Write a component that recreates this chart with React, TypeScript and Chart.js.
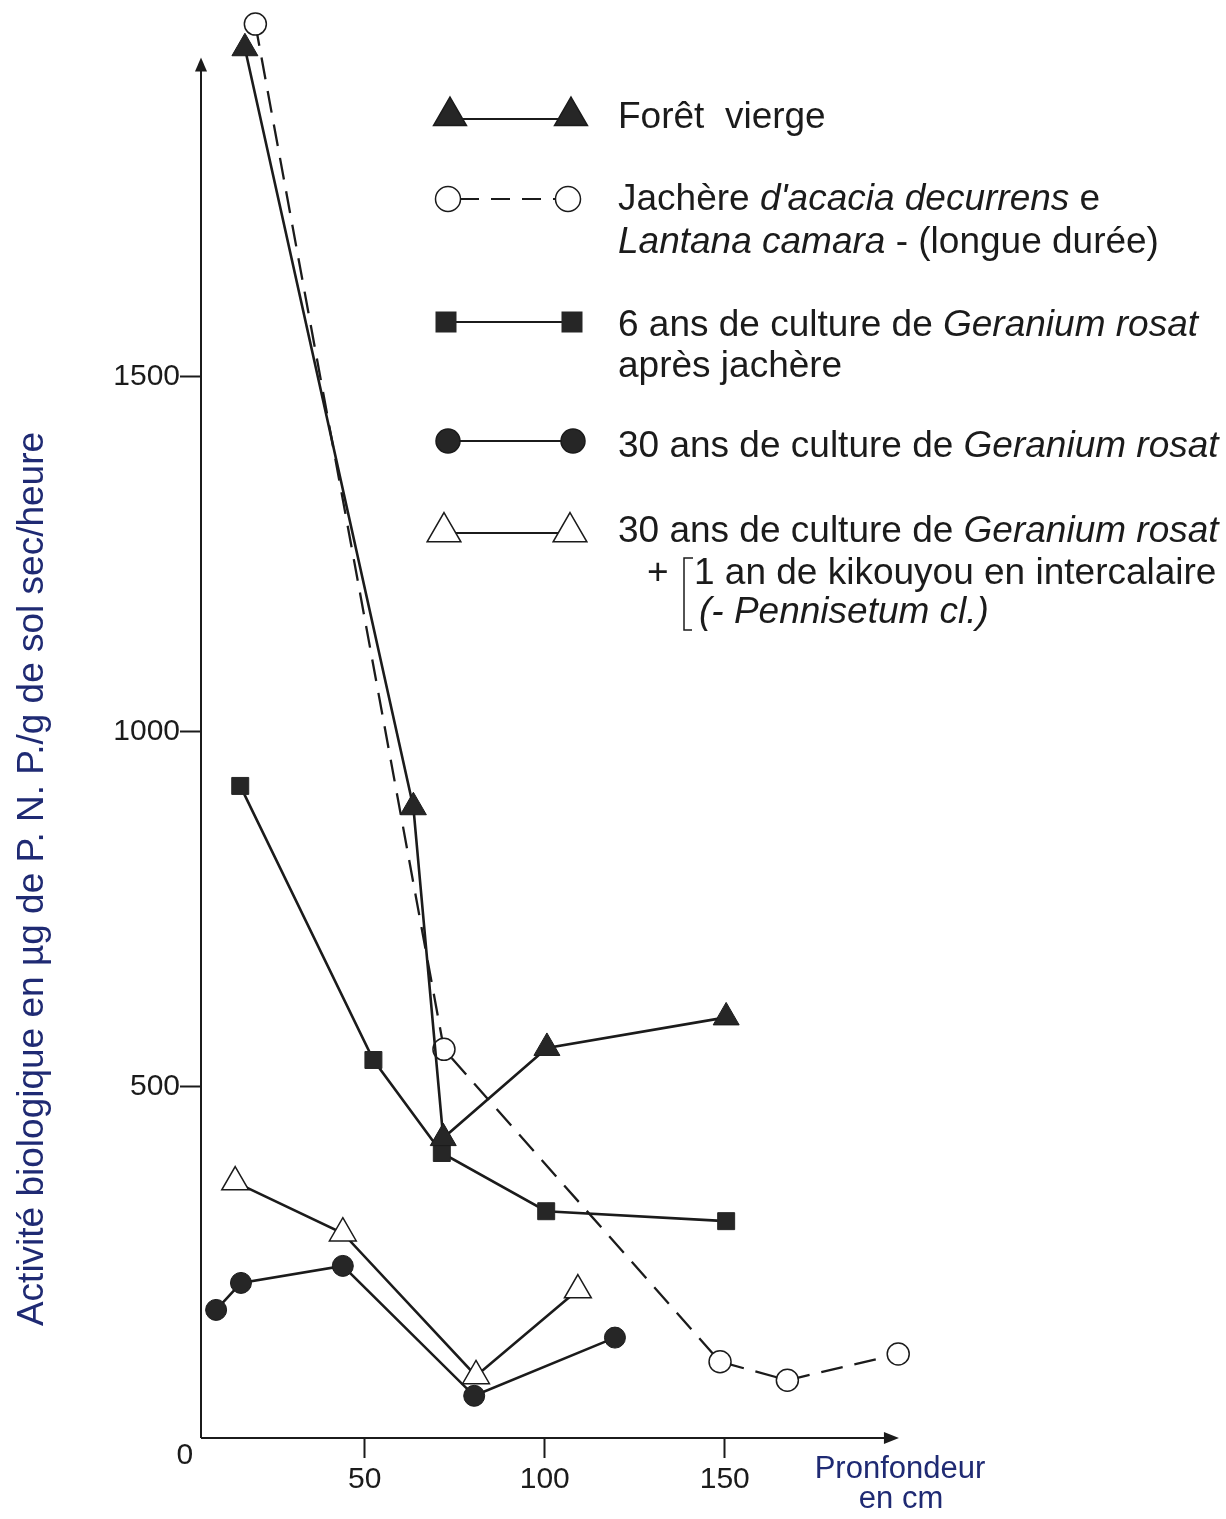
import React, { useEffect, useRef } from "react";
import { Chart, registerables } from "chart.js";

Chart.register(...registerables);

// ---- Data ----
const foretX = [16.7, 63.5, 71.8, 100.6, 150.4];
const foretY = [1963, 894, 428, 555, 598];
const jachereX = [19.6, 72.0, 148.7, 167.4, 198.2];
const jachereY = [1997, 553, 113, 87, 124];
const sixAnsX = [15.4, 52.4, 71.4, 100.4, 150.4];
const sixAnsY = [924, 538, 407, 325, 311];
const trenteAnsX = [8.7, 15.6, 43.9, 80.4, 119.5];
const trenteAnsY = [186, 224, 248, 65, 147];
const kikouyouX = [14.0, 43.9, 80.9, 109.2];
const kikouyouY = [366, 294, 93, 214];

const xTicks = [50, 100, 150];
const yTicks = [500, 1000, 1500];

const X_MIN = 4.5;
const X_MAX = 205;
const Y_MIN = 5.6;
const Y_MAX = 2005.6;
const X_AXIS_END = 198.4;
const Y_AXIS_END = 1950;

const INK = "#1b1b1b";
const FILL = "#262626";
const NAVY = "#1f2a73";
const FONT = "'Liberation Sans', Arial, Helvetica, sans-serif";

const pts = (xs: number[], ys: number[]) => xs.map((x, i) => ({ x, y: ys[i] }));

function tri(ctx: CanvasRenderingContext2D, cx: number, cy: number, r: number, filled: boolean) {
  ctx.beginPath();
  for (let k = 0; k < 3; k++) {
    const a = (k * 2 * Math.PI) / 3;
    const px = cx + Math.sin(a) * r;
    const py = cy - Math.cos(a) * r;
    if (k === 0) ctx.moveTo(px, py);
    else ctx.lineTo(px, py);
  }
  ctx.closePath();
  ctx.fillStyle = filled ? FILL : "#ffffff";
  ctx.fill();
  ctx.lineWidth = 1.5;
  ctx.strokeStyle = INK;
  ctx.stroke();
}

function circ(ctx: CanvasRenderingContext2D, cx: number, cy: number, r: number, filled: boolean) {
  ctx.beginPath();
  ctx.arc(cx, cy, r, 0, Math.PI * 2);
  ctx.fillStyle = filled ? FILL : "#ffffff";
  ctx.fill();
  ctx.lineWidth = 1.5;
  ctx.strokeStyle = INK;
  ctx.stroke();
}

function sq(ctx: CanvasRenderingContext2D, cx: number, cy: number, s: number) {
  ctx.fillStyle = FILL;
  ctx.fillRect(cx - s / 2, cy - s / 2, s, s);
}

function seg(ctx: CanvasRenderingContext2D, x1: number, y1: number, x2: number, y2: number, dash: number[] = []) {
  ctx.save();
  ctx.setLineDash(dash);
  ctx.lineWidth = 2;
  ctx.strokeStyle = INK;
  ctx.beginPath();
  ctx.moveTo(x1, y1);
  ctx.lineTo(x2, y2);
  ctx.stroke();
  ctx.restore();
}

function runs(ctx: CanvasRenderingContext2D, x: number, y: number, parts: [string, boolean][], size: number) {
  let cx = x;
  ctx.fillStyle = INK;
  ctx.textAlign = "left";
  ctx.textBaseline = "middle";
  for (const [t, it] of parts) {
    ctx.font = `${it ? "italic " : ""}${size}px ${FONT}`;
    ctx.fillText(t, cx, y);
    cx += ctx.measureText(t).width;
  }
}

const axesPlugin = {
  id: "axesDecor",
  beforeDatasetsDraw(chart: any) {
    const ctx: CanvasRenderingContext2D = chart.ctx;
    const xs = chart.scales.x;
    const ys = chart.scales.y;
    const x0 = xs.getPixelForValue(X_MIN);
    const y0 = ys.getPixelForValue(Y_MIN);
    const yTop = ys.getPixelForValue(Y_AXIS_END);
    const xEnd = xs.getPixelForValue(X_AXIS_END);
    ctx.save();
    ctx.strokeStyle = INK;
    ctx.fillStyle = INK;
    ctx.lineWidth = 2;
    ctx.beginPath();
    ctx.moveTo(x0, y0);
    ctx.lineTo(x0, yTop + 8);
    ctx.moveTo(x0, y0);
    ctx.lineTo(xEnd - 8, y0);
    ctx.stroke();
    // arrows
    ctx.beginPath();
    ctx.moveTo(x0, yTop);
    ctx.lineTo(x0 - 6, yTop + 14);
    ctx.lineTo(x0 + 6, yTop + 14);
    ctx.closePath();
    ctx.fill();
    ctx.beginPath();
    ctx.moveTo(xEnd, y0);
    ctx.lineTo(xEnd - 15, y0 - 6);
    ctx.lineTo(xEnd - 15, y0 + 6);
    ctx.closePath();
    ctx.fill();
    // origin label
    ctx.font = `30px ${FONT}`;
    ctx.textAlign = "center";
    ctx.textBaseline = "middle";
    ctx.fillText("0", xs.getPixelForValue(0), ys.getPixelForValue(0) + 14);
    // axis titles
    ctx.fillStyle = NAVY;
    ctx.font = `31px ${FONT}`;
    ctx.fillText("Pronfondeur", 900, 1469);
    ctx.fillText("en cm", 901, 1499);
    ctx.save();
    ctx.translate(33, 879);
    ctx.rotate(-Math.PI / 2);
    ctx.font = `37px ${FONT}`;
    ctx.fillText("Activité biologique en µg de P. N. P./g de sol sec/heure", 0, 0);
    ctx.restore();
    ctx.restore();
  },
  afterDraw(chart: any) {
    const ctx: CanvasRenderingContext2D = chart.ctx;
    ctx.save();
    const S = 37;
    const TX = 618;
    // 1 Forêt vierge
    seg(ctx, 450, 119, 571, 119);
    tri(ctx, 450, 116, 19, true);
    tri(ctx, 571, 116, 19, true);
    runs(ctx, TX, 118, [["Forêt  vierge", false]], S);
    // 2 Jachère
    seg(ctx, 460, 199, 556, 199, [19, 12]);
    circ(ctx, 448, 199, 12.5, false);
    circ(ctx, 568, 199, 12.5, false);
    runs(ctx, TX, 200, [["Jachère ", false], ["d'acacia decurrens", true], [" e", false]], S);
    runs(ctx, TX, 243, [["Lantana camara", true], [" - (longue durée)", false]], S);
    // 3 6 ans
    seg(ctx, 446, 322, 572, 322);
    sq(ctx, 446, 322, 21);
    sq(ctx, 572, 322, 21);
    runs(ctx, TX, 326, [["6 ans de culture de ", false], ["Geranium rosat", true]], S);
    runs(ctx, TX, 367, [["après jachère", false]], S);
    // 4 30 ans
    seg(ctx, 448, 441, 573, 441);
    circ(ctx, 448, 441, 12, true);
    circ(ctx, 573, 441, 12, true);
    runs(ctx, TX, 447, [["30 ans de culture de ", false], ["Geranium rosat", true]], S);
    // 5 30 ans + kikouyou
    seg(ctx, 444, 533, 570, 533);
    tri(ctx, 444, 532, 19.5, false);
    tri(ctx, 570, 532, 19.5, false);
    runs(ctx, TX, 532, [["30 ans de culture de ", false], ["Geranium rosat", true]], S);
    runs(ctx, 647, 574, [["+", false]], S);
    ctx.strokeStyle = INK;
    ctx.lineWidth = 1.5;
    ctx.beginPath();
    ctx.moveTo(693, 558);
    ctx.lineTo(684, 558);
    ctx.lineTo(684, 630);
    ctx.lineTo(692, 630);
    ctx.stroke();
    runs(ctx, 694, 574, [["1 an de kikouyou en intercalaire", false]], S);
    runs(ctx, 699, 613, [["(- Pennisetum cl.)", true]], S);
    ctx.restore();
  },
};

export default function App() {
  const ref = useRef<HTMLCanvasElement>(null);
  useEffect(() => {
    document.body.style.margin = "0";
    document.body.style.overflow = "hidden";
    const canvas = ref.current;
    if (!canvas) return;
    const lineBase = { borderColor: INK, borderWidth: 2.6, tension: 0, fill: false, clip: false as any };
    const chart = new Chart(canvas, {
      type: "line",
      data: {
        datasets: [
          {
            ...lineBase,
            label: "Forêt vierge",
            data: pts(foretX, foretY),
            pointStyle: "triangle",
            pointRadius: 15,
            pointBackgroundColor: FILL,
            pointBorderColor: INK,
            pointBorderWidth: 1,
          },
          {
            ...lineBase,
            label: "Jachère",
            data: pts(jachereX, jachereY),
            borderWidth: 2.3,
            borderDash: [22, 12],
            pointStyle: "circle",
            pointRadius: 11,
            pointBackgroundColor: "#ffffff",
            pointBorderColor: INK,
            pointBorderWidth: 1.5,
          },
          {
            ...lineBase,
            label: "6 ans",
            data: pts(sixAnsX, sixAnsY),
            pointStyle: "rect",
            pointRadius: 12,
            pointBackgroundColor: FILL,
            pointBorderColor: FILL,
            pointBorderWidth: 1,
          },
          {
            ...lineBase,
            label: "30 ans",
            data: pts(trenteAnsX, trenteAnsY),
            pointStyle: "circle",
            pointRadius: 10.5,
            pointBackgroundColor: FILL,
            pointBorderColor: INK,
            pointBorderWidth: 1,
          },
          {
            ...lineBase,
            label: "30 ans + kikouyou",
            data: pts(kikouyouX, kikouyouY),
            pointStyle: "triangle",
            pointRadius: 15.5,
            pointBackgroundColor: "#ffffff",
            pointBorderColor: INK,
            pointBorderWidth: 1.5,
          },
        ] as any,
      },
      options: {
        responsive: false,
        animation: false,
        devicePixelRatio: 1,
        events: [],
        layout: { padding: { top: 18, right: 303.3, left: 0, bottom: 0 } },
        plugins: {
          legend: { display: false },
          tooltip: { enabled: false },
          title: { display: false },
        },
        scales: {
          x: {
            type: "linear",
            min: X_MIN,
            max: X_MAX,
            afterBuildTicks: (s: any) => {
              s.ticks = xTicks.map((v) => ({ value: v }));
            },
            afterFit: (s: any) => {
              s.height = 81;
            },
            grid: { display: true, drawOnChartArea: false, drawTicks: true, tickLength: 20, tickColor: INK, tickWidth: 2 },
            border: { display: false },
            ticks: {
              font: { family: FONT, size: 30 },
              color: INK,
              padding: 4,
              maxRotation: 0,
              autoSkip: false,
              callback: (v: any) => String(v),
            },
          },
          y: {
            type: "linear",
            min: Y_MIN,
            max: Y_MAX,
            afterBuildTicks: (s: any) => {
              s.ticks = yTicks.map((v) => ({ value: v }));
            },
            afterFit: (s: any) => {
              s.width = 201;
            },
            grid: { display: true, drawOnChartArea: false, drawTicks: true, tickLength: 21, tickColor: INK, tickWidth: 2 },
            border: { display: false },
            ticks: {
              font: { family: FONT, size: 30 },
              color: INK,
              padding: 0,
              autoSkip: false,
              callback: (v: any) => String(v),
            },
          },
        },
      } as any,
      plugins: [axesPlugin as any],
    });
    return () => chart.destroy();
  }, []);
  return (
    <div style={{ width: 1226, height: 1519, position: "relative" }}>
      <canvas ref={ref} width={1226} height={1519} style={{ display: "block", width: 1226, height: 1519 }} />
    </div>
  );
}
